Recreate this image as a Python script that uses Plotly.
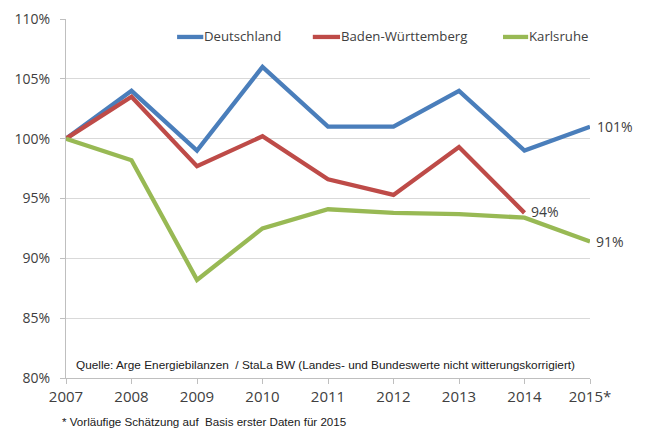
import plotly.graph_objects as go

years = [2007, 2008, 2009, 2010, 2011, 2012, 2013, 2014, 2015]
year_labels = ["2007", "2008", "2009", "2010", "2011", "2012", "2013", "2014", "2015*"]
deutschland = [100, 104, 99, 106, 101, 101, 104, 99, 101]
bw_years = [2007, 2008, 2009, 2010, 2011, 2012, 2013, 2014]
baden_wuerttemberg = [100, 103.5, 97.7, 100.2, 96.6, 95.3, 99.3, 93.8]
karlsruhe = [100, 98.2, 88.2, 92.5, 94.1, 93.8, 93.7, 93.4, 91.4]
y_ticks = [80, 85, 90, 95, 100, 105, 110]

blue = "#4A7EBB"
red = "#BE4B48"
green = "#98B954"
txt = "#404040"

series = [
    ("Deutschland", years, deutschland, blue),
    ("Baden-Württemberg", bw_years, baden_wuerttemberg, red),
    ("Karlsruhe", years, karlsruhe, green),
]

fig = go.Figure()
for name, xs, ys, col in series:
    fig.add_trace(go.Scatter(x=xs, y=ys, mode="lines", name=name,
                             line=dict(color=col, width=4.3), showlegend=False))

# manual legend (line sample + text), positioned in paper coordinates
legend_pos = [(0.212, 0.262), (0.471, 0.523), (0.834, 0.882)]
leg_y = 0.95
for (name, xs, ys, col), (x0, x1) in zip(series, legend_pos):
    fig.add_shape(type="line", xref="paper", yref="paper", x0=x0, x1=x1, y0=leg_y, y1=leg_y,
                  line=dict(color=col, width=4.3))
    fig.add_annotation(x=x1, y=leg_y, xref="paper", yref="paper", text=name, showarrow=False,
                       xanchor="left", yanchor="middle", xshift=-1, yshift=1,
                       font=dict(family="Open Sans", size=13.2, color=txt))

lab_font = dict(family="Open Sans", size=14, color=txt)
fig.add_annotation(x=years[-1], y=deutschland[-1], text="101%", showarrow=False,
                   xanchor="left", yanchor="middle", xshift=5, font=lab_font)
fig.add_annotation(x=bw_years[-1], y=baden_wuerttemberg[-1], text="94%", showarrow=False,
                   xanchor="left", yanchor="middle", xshift=4, yshift=1, font=lab_font)
fig.add_annotation(x=years[-1], y=karlsruhe[-1], text="91%", showarrow=False,
                   xanchor="left", yanchor="middle", xshift=4, font=lab_font)
fig.add_annotation(x=2007, y=81.1, xref="x", yref="y",
                   text="Quelle: Arge Energiebilanzen  / StaLa BW (Landes- und Bundeswerte nicht witterungskorrigiert)",
                   showarrow=False, xanchor="left", yanchor="middle", xshift=8,
                   font=dict(family="Liberation Sans", size=11.8, color="#202020"))
fig.add_annotation(x=0.0, y=-0.12, xref="paper", yref="paper",
                   text="* Vorläufige Schätzung auf  Basis erster Daten für 2015",
                   showarrow=False, xanchor="left", yanchor="middle", xshift=-6,
                   font=dict(family="Liberation Sans", size=11.6, color="#202020"))

fig.update_layout(
    width=638, height=422,
    margin=dict(l=58, r=56, t=11, b=52, autoexpand=False),
    paper_bgcolor="white", plot_bgcolor="white",
    showlegend=False,
    xaxis=dict(range=[2007, 2015], tickvals=years, ticktext=year_labels,
               showgrid=False, showline=True, linecolor="#BFBFBF", linewidth=1,
               ticks="outside", ticklen=5, tickcolor="#BFBFBF",
               tickfont=dict(family="Open Sans", size=15, color=txt)),
    yaxis=dict(range=[80, 110], tickvals=y_ticks, ticktext=[f"{v}%" for v in y_ticks],
               showgrid=True, gridcolor="#D9D9D9", gridwidth=1,
               showline=True, linecolor="#BFBFBF", linewidth=1,
               ticks="outside", ticklen=5, tickcolor="#BFBFBF", zeroline=False,
               ticklabelstandoff=7,
               tickfont=dict(family="Open Sans", size=14, color=txt)),
)

fig.write_html("out.html")
